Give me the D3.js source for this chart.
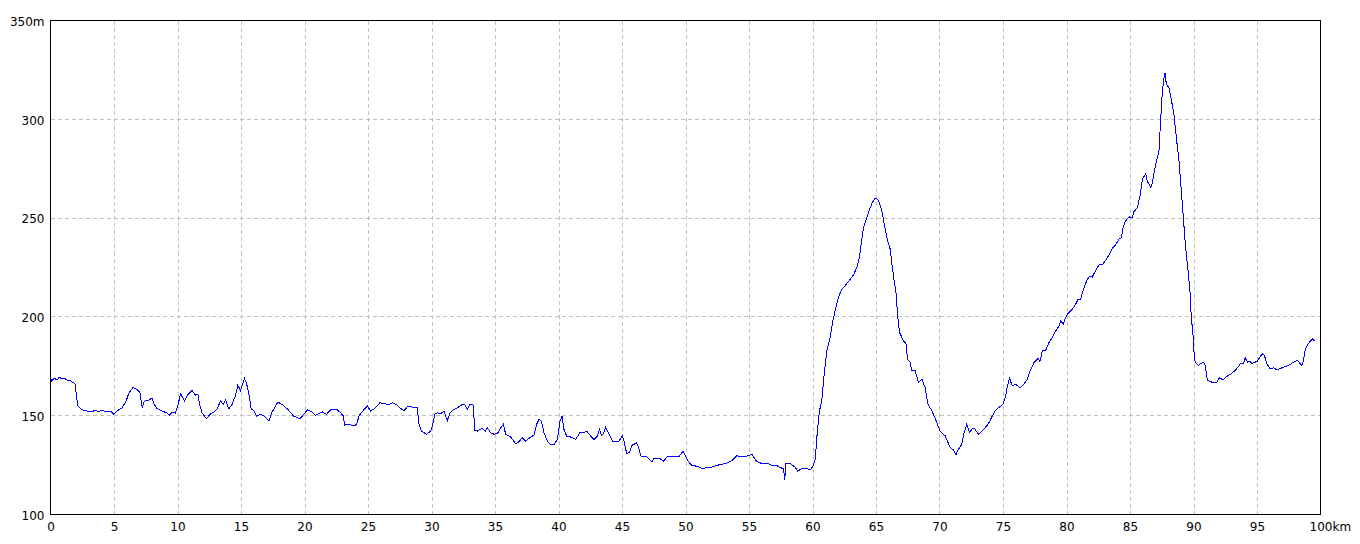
<!DOCTYPE html>
<html><head><meta charset="utf-8">
<script src="https://cdn.jsdelivr.net/npm/d3@7"></script>
<style>body{margin:0;background:#fff}svg{display:block}</style>
</head><body><svg id="c" width="1360" height="544"></svg>
<script>
const distanceKm = [0,0.1,0.3,0.5,0.7,0.9,1.1,1.3,1.5,1.7,1.84,1.95,2.05,2.15,2.36,2.6,2.89,3.2,3.5,3.8,4.1,4.4,4.7,5.0,5.25,5.64,5.98,6.17,6.5,6.82,7.03,7.22,7.4,7.74,8.0,8.14,8.4,8.79,9.19,9.4,9.58,9.84,10.03,10.24,10.55,10.76,11.15,11.42,11.6,11.76,11.94,12.28,12.6,12.86,13.12,13.39,13.6,13.78,14.04,14.3,14.57,14.75,14.96,15.1,15.28,15.43,15.62,15.8,16.0,16.22,16.54,16.85,17.19,17.45,17.9,18.24,18.64,19.16,19.63,20.0,20.2,20.6,20.85,21.4,21.73,22.05,22.57,22.85,23.06,23.16,23.5,23.9,24.1,24.29,24.48,24.69,24.95,25.2,25.6,25.94,26.26,26.65,26.92,27.31,27.52,27.83,28.15,28.49,28.88,29.02,29.2,29.62,29.93,30.07,30.25,30.46,30.72,30.98,31.25,31.46,31.77,32.03,32.35,32.61,32.82,33.03,33.29,33.4,33.61,34.0,34.26,34.4,34.66,34.92,35.18,35.45,35.66,35.84,36.23,36.63,36.89,37.15,37.41,37.76,38.07,38.28,38.46,38.65,38.86,39.12,39.38,39.65,39.91,40.12,40.28,40.43,40.64,40.96,41.35,41.69,42.0,42.22,42.53,42.8,43.06,43.22,43.37,43.53,43.71,43.98,44.24,44.5,44.76,45.03,45.16,45.29,45.39,45.6,45.79,46.13,46.3,46.5,46.97,47.36,47.5,48.0,48.28,48.54,48.94,49.46,49.8,49.99,50.25,50.5,50.9,51.38,51.69,52.09,52.48,52.87,53.27,53.66,54.06,54.32,54.71,54.97,55.24,55.58,56.02,56.42,56.81,57.15,57.47,57.73,57.81,57.91,58.25,58.64,58.83,59.17,59.51,59.83,60.04,60.22,60.34,60.55,60.73,60.92,61.13,61.39,61.6,61.78,62.05,62.31,62.57,62.97,63.23,63.49,63.7,63.83,64.02,64.23,64.41,64.67,64.93,65.07,65.2,65.46,65.67,65.91,66.12,66.25,66.43,66.59,66.69,66.85,67.17,67.38,67.48,67.69,67.82,68.08,68.35,68.61,68.87,69.08,69.4,69.79,70.05,70.45,70.84,71.1,71.29,71.5,71.76,71.94,72.15,72.36,72.55,72.73,73.07,73.41,73.73,73.94,74.16,74.42,74.69,75.0,75.21,75.34,75.52,75.73,76.0,76.34,76.6,76.92,77.13,77.44,77.76,77.91,78.1,78.36,78.62,78.88,79.15,79.41,79.54,79.75,79.93,80.12,80.46,80.72,80.91,81.12,81.25,81.43,81.64,81.85,82.03,82.3,82.56,82.82,83.08,83.35,83.61,83.87,84.13,84.32,84.48,84.66,84.92,85.18,85.31,85.58,85.79,85.97,86.23,86.36,86.63,86.76,86.94,87.1,87.28,87.41,87.55,87.68,87.76,87.86,88.07,88.25,88.46,88.65,88.86,89.04,89.2,89.38,89.56,89.72,89.83,89.96,90.05,90.13,90.39,90.52,90.79,90.92,91.1,91.44,91.84,92.05,92.31,92.62,92.89,93.28,93.54,93.73,93.94,94.07,94.25,94.46,94.59,94.85,95.04,95.25,95.46,95.59,95.77,96.04,96.3,96.56,96.96,97.22,97.48,97.87,98.19,98.4,98.53,98.66,98.79,98.98,99.19,99.4,99.53];
const elevationM = [169,167.5,169,168,169.5,168.5,169,168,168,167,166.5,166,159.4,155,153.5,152.8,152.4,152,152.6,152.2,152.6,152,152.4,150.7,152.4,154,157.8,161.5,164.2,163.2,162,154.4,157.4,157.8,159,156,153.5,152.4,151.3,150.2,151.9,151.3,155.2,161.1,157.4,160.3,162.8,160.3,160.8,155.2,151.3,148.5,151,151.9,153.5,157.4,155.7,158.1,153.5,155.7,160.3,165.4,162.8,165.4,168.7,166.5,161.1,153.5,152.7,149.7,150.7,149.7,147.3,151.9,156.9,155.7,153.5,149.7,148.5,151,153,151.9,150.2,151.9,150.7,153,153,151.5,149.8,145.3,145.6,144.8,145.6,149.8,151.5,153.2,154.9,152.4,154,156.6,156.1,155.7,156.6,155.4,154,152.4,154.9,154.4,154,145.6,142.2,140.6,142.2,144.8,150.7,151.5,151,152.4,147.6,151.5,153.2,154,155.4,155.7,153.2,155.7,155.4,142.6,142.2,143.6,142.2,143.9,141.4,140.6,140.9,143.9,145.6,140.6,139.2,135.8,136.8,138.9,137.2,138.9,140.2,145.6,148.1,147.3,141.4,137.2,135.2,135.5,138,147.3,149.8,143.1,139.7,139.2,138,141.4,141.4,142.2,139.7,138,139.7,143.1,140.2,140.9,144.3,140.6,137.2,136.8,137.2,139.7,137,133,130.8,131.6,135,136.2,134.1,129.4,129.1,126.6,128.2,128.2,127,129.1,129.1,129.1,132.1,129.9,126.6,124.9,124.4,123.2,124,124,124.9,125.4,126,127.4,129.9,129.1,129.1,129.9,130.4,127,125.7,126,124.9,124.9,123.7,123.2,117.3,126,125.7,124,122,123.2,123.2,122.7,124.4,128,139,152.5,157.6,171,182.9,189.6,198,203.1,209.9,214.1,215.8,219.1,221.3,225,230.1,236.8,245.3,249.5,252.9,257.4,260.1,259.6,258.8,253.7,246.1,238.5,234.3,226.7,218.3,211.5,201.4,192.1,187.9,186.2,178.6,177,172.7,172.7,166.8,168.5,164.3,155.9,152.5,146.6,142,139.8,133.9,132.6,130.2,133.1,135.6,141.5,145.7,141.5,143.2,143.7,140.7,142.5,145,147,149.9,152.8,154.2,155.8,160,165,168.9,165,165.9,164.2,165.6,168.4,172.6,176.9,179,177.4,182.8,183.1,187,189.5,192.9,195.4,197.9,196.3,199.6,201.7,203.8,206.4,208.9,208.9,212.3,215.7,219,220.7,220.2,223.6,226.3,226.3,228.6,231.3,234.7,236.4,239.3,240.1,246,248.6,250.6,250.3,253.3,255.3,261.2,269.6,272.5,268.8,265.4,267.9,274.7,279.3,284,299.2,314.3,321.1,323.6,317.7,316,310.1,302.5,290.7,278.9,263.7,250.2,235.1,224.1,213.1,199.6,191.2,181.3,177.1,175.4,176.3,177.1,175.4,167.8,167,167,169.2,168.2,169.8,170.9,172.9,174.9,176.6,176.3,179.3,177.1,177.6,176.3,177.1,177.6,180,181.3,180.4,176.3,173.7,174.2,173.2,174.2,174.9,175.4,177.1,178,176.3,175.4,178,183,186,187.7,188.9,187.7];
const xTickValues = [0,5,10,15,20,25,30,35,40,45,50,55,60,65,70,75,80,85,90,95,100];
const yTickValues = [100,150,200,250,300,350];
const xUnit = "km";
const yUnit = "m";

const svg = d3.select("#c");
const L = 50.5, R = 1320.5, T = 20.5, B = 514.5;
const x = d3.scaleLinear().domain([0, 100]).range([L, R]);
const y = d3.scaleLinear().domain([100, 350]).range([B, T]);
const font = "'DejaVu Sans', 'Liberation Sans', sans-serif";

svg.append("rect").attr("width", 1360).attr("height", 544).attr("fill", "#fff");

// grid
const grid = svg.append("g").attr("stroke", "#c0c0c0").attr("stroke-dasharray", "4,3")
  .attr("shape-rendering", "crispEdges");
grid.selectAll("line.v").data(xTickValues.filter(d => d > 0 && d < 100)).join("line")
  .attr("class", "v")
  .attr("x1", d => Math.round(x(d)) + 0.5).attr("x2", d => Math.round(x(d)) + 0.5)
  .attr("y1", T).attr("y2", B);
grid.selectAll("line.h").data(yTickValues.filter(d => d > 100 && d < 350)).join("line")
  .attr("class", "h")
  .attr("y1", d => Math.round(y(d) - 0.5) + 0.5).attr("y2", d => Math.round(y(d) - 0.5) + 0.5)
  .attr("x1", L).attr("x2", R);

// frame
svg.append("rect").attr("x", L).attr("y", T).attr("width", R - L).attr("height", B - T)
  .attr("fill", "none").attr("stroke", "#000").attr("shape-rendering", "crispEdges");

// line
const pts = distanceKm.map((d, i) => [d, elevationM[i]]);
svg.append("path").datum(pts)
  .attr("fill", "none").attr("stroke", "#0000ff").attr("stroke-width", 1)
  .attr("shape-rendering", "crispEdges")
  .attr("d", d3.line().x(d => x(d[0])).y(d => y(d[1])));

// axes
const yAxis = d3.axisLeft(y).tickValues(yTickValues).tickSize(0).tickPadding(6)
  .tickFormat(d => d === 350 ? d + yUnit : String(d));
const gy = svg.append("g").attr("transform", `translate(${L},0)`).call(yAxis);
gy.select(".domain").remove();
gy.selectAll("text").attr("font-family", font).attr("font-size", 12).attr("fill", "#000").attr("dy", "0.4em");

const xAxis = d3.axisBottom(x).tickValues(xTickValues).tickSize(0).tickPadding(8)
  .tickFormat(d => d === 100 ? d + xUnit : String(d));
const gx = svg.append("g").attr("transform", `translate(0,${B})`).call(xAxis);
gx.select(".domain").remove();
gx.selectAll("text").attr("font-family", font).attr("font-size", 12).attr("fill", "#000");
gx.selectAll(".tick").filter(d => d === 100).select("text").each(function () {
  const t = d3.select(this);
  const tmp = svg.append("text").attr("font-family", font).attr("font-size", 12).text("100");
  const w = tmp.node().getComputedTextLength();
  tmp.remove();
  t.attr("text-anchor", "start").attr("x", -w / 2);
});
</script></body></html>
